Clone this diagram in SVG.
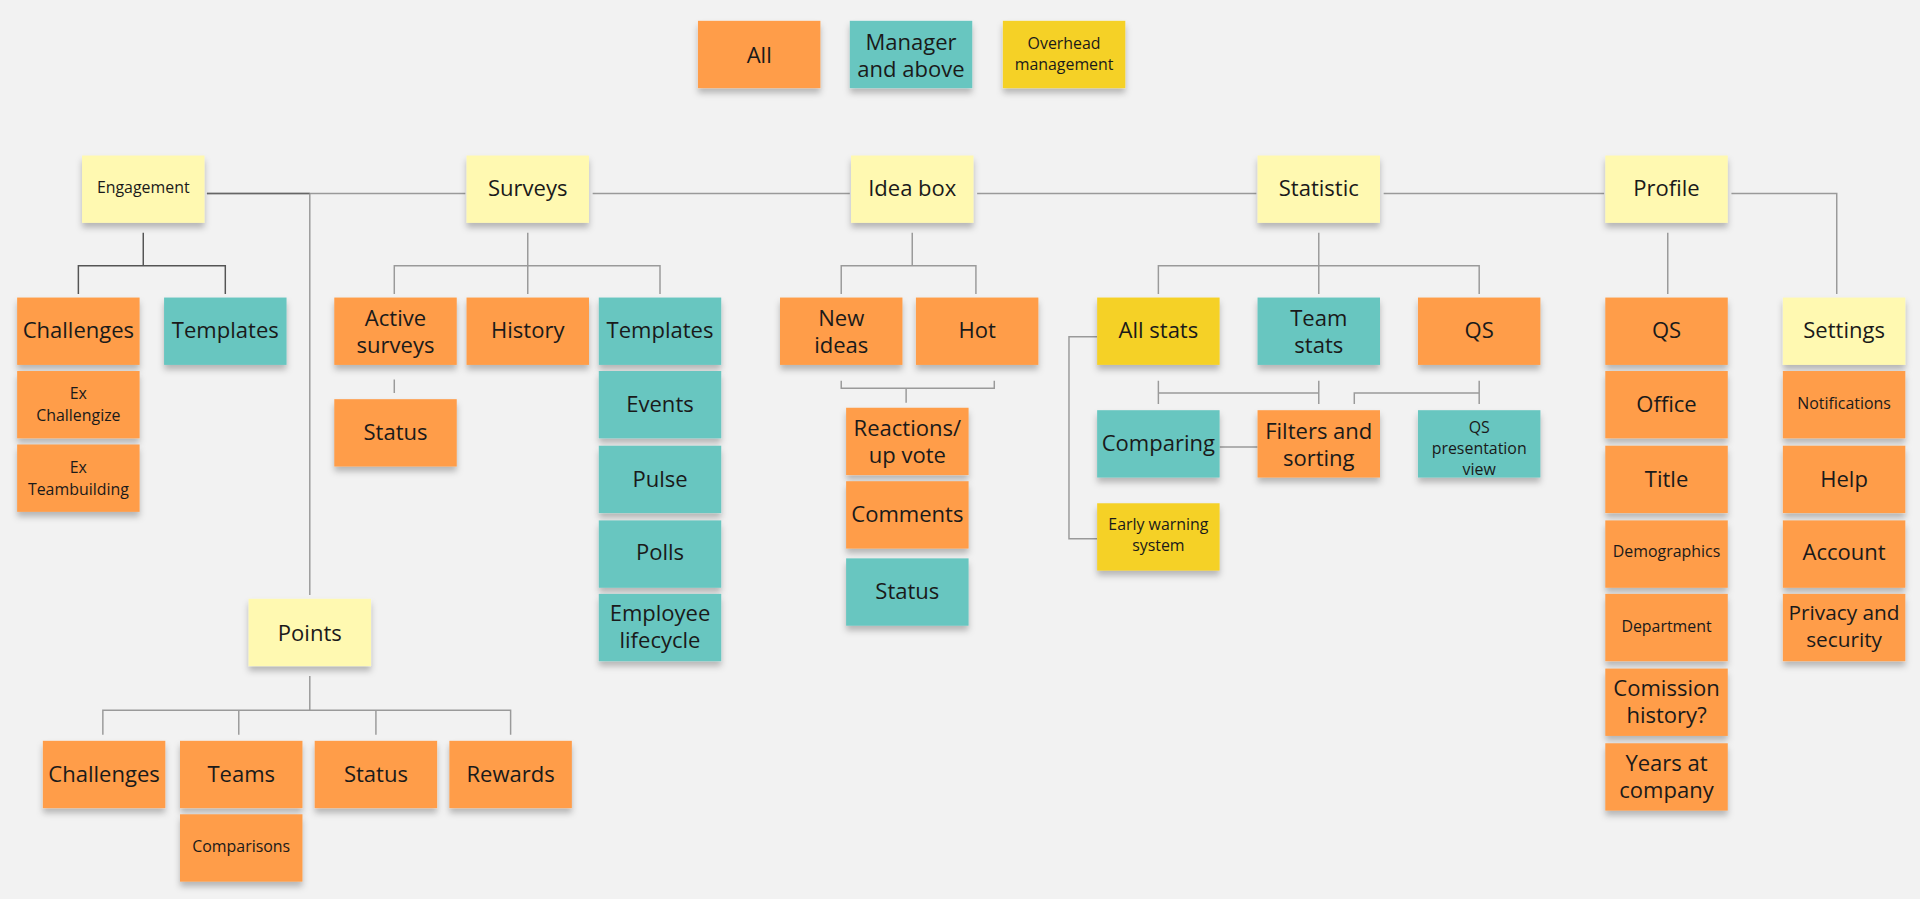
<svg xmlns="http://www.w3.org/2000/svg" width="1920" height="899" viewBox="0 0 1920 899">
<defs>
<filter id="sh" x="-10%" y="-10%" width="120%" height="140%"><feDropShadow dx="0" dy="4" stdDeviation="2.5" flood-color="#000" flood-opacity="0.25"/></filter>
<style>
.n rect{filter:url(#sh)}
.o{fill:#FF9D48}.t{fill:#67C6C0}.y{fill:#FFF9B1}.g{fill:#F5D128}
text{font-family:"Open Sans","Noto Sans",sans-serif;font-size:18px;fill:#1a1a1a;text-anchor:middle;dominant-baseline:central}
text.s{font-size:13px}
.c path{fill:none;stroke:#9a9a9a;stroke-width:1.2}
</style>
</defs>
<rect width="1920" height="899" fill="#F2F2F2"/>
<g transform="scale(1.22449)">
<g class="c" id="connectors">
<path d="M169 158H380M484 158H694M798 158H1026M1130 158H1310M1414 158H1500V240"/>
<path d="M169 158H253" style="stroke:#666"/>
<path d="M253 158V486"/>
<path d="M117 190V217M64 240V217H184V240" style="stroke:#555"/>
<path d="M431 190V240M322 240V217H539V240M322 310V321"/>
<path d="M745 190V217M687 240V217H797V240M687 311V317H812V311M740 317V329"/>
<path d="M1077 190V240M946 240V217H1208V240"/>
<path d="M946 311V330M946 321H1077M1077 311V330M1106 330V321H1208M1208 311V330M996 365H1027"/>
<path d="M896 275H873V440H896"/>
<path d="M1362 190V240"/>
<path d="M253 552V580M84 600V580H417V600M195 580V600M307 580V600"/>
</g>
<g class="n" id="legend-all"><rect class="o" x="570" y="17" width="100" height="55"/><text x="620" y="44.5">All</text></g>
<g class="n" id="legend-manager"><rect class="t" x="694" y="17" width="100" height="55"/><text x="744" y="44.5"><tspan x="744" dy="-11">Manager</tspan><tspan x="744" dy="22">and above</tspan></text></g>
<g class="n" id="legend-overhead"><rect class="g" x="819" y="17" width="100" height="55"/><text class="s" x="869" y="44.5"><tspan x="869" dy="-9">Overhead</tspan><tspan x="869" dy="17">management</tspan></text></g>

<g class="n" id="engagement"><rect class="y" x="67" y="127" width="100" height="55"/><text class="s" x="117" y="153">Engagement</text></g>
<g class="n" id="surveys"><rect class="y" x="381" y="127" width="100" height="55"/><text x="431" y="153">Surveys</text></g>
<g class="n" id="ideabox"><rect class="y" x="695" y="127" width="100" height="55"/><text x="745" y="153">Idea box</text></g>
<g class="n" id="statistic"><rect class="y" x="1027" y="127" width="100" height="55"/><text x="1077" y="153">Statistic</text></g>
<g class="n" id="profile"><rect class="y" x="1311" y="127" width="100" height="55"/><text x="1361" y="153">Profile</text></g>

<g class="n" id="eng-challenges"><rect class="o" x="14" y="243" width="100" height="55"/><text x="64" y="269">Challenges</text></g>
<g class="n" id="eng-templates"><rect class="t" x="134" y="243" width="100" height="55"/><text x="184" y="269">Templates</text></g>
<g class="n" id="ex-challengize"><rect class="o" x="14" y="303" width="100" height="55"/><text class="s" x="64" y="330"><tspan x="64" dy="-9">Ex</tspan><tspan x="64" dy="18">Challengize</tspan></text></g>
<g class="n" id="ex-teambuilding"><rect class="o" x="14" y="363" width="100" height="55"/><text class="s" x="64" y="390"><tspan x="64" dy="-9">Ex</tspan><tspan x="64" dy="18">Teambuilding</tspan></text></g>

<g class="n" id="active-surveys"><rect class="o" x="273" y="243" width="100" height="55"/><text x="323" y="270"><tspan x="323" dy="-11">Active</tspan><tspan x="323" dy="22">surveys</tspan></text></g>
<g class="n" id="history"><rect class="o" x="381" y="243" width="100" height="55"/><text x="431" y="269">History</text></g>
<g class="n" id="sv-templates"><rect class="t" x="489" y="243" width="100" height="55"/><text x="539" y="269">Templates</text></g>
<g class="n" id="sv-status"><rect class="o" x="273" y="326" width="100" height="55"/><text x="323" y="352">Status</text></g>
<g class="n" id="events"><rect class="t" x="489" y="303" width="100" height="55"/><text x="539" y="329">Events</text></g>
<g class="n" id="pulse"><rect class="t" x="489" y="364" width="100" height="55"/><text x="539" y="390">Pulse</text></g>
<g class="n" id="polls"><rect class="t" x="489" y="425" width="100" height="55"/><text x="539" y="450">Polls</text></g>
<g class="n" id="employee-lifecycle"><rect class="t" x="489" y="485" width="100" height="55"/><text x="539" y="511"><tspan x="539" dy="-11">Employee</tspan><tspan x="539" dy="22">lifecycle</tspan></text></g>

<g class="n" id="new-ideas"><rect class="o" x="637" y="243" width="100" height="55"/><text x="687" y="270"><tspan x="687" dy="-11">New</tspan><tspan x="687" dy="22">ideas</tspan></text></g>
<g class="n" id="hot"><rect class="o" x="748" y="243" width="100" height="55"/><text x="798" y="269">Hot</text></g>
<g class="n" id="reactions"><rect class="o" x="691" y="333" width="100" height="55"/><text x="741" y="360"><tspan x="741" dy="-11">Reactions/</tspan><tspan x="741" dy="22">up vote</tspan></text></g>
<g class="n" id="comments"><rect class="o" x="691" y="393" width="100" height="55"/><text x="741" y="419">Comments</text></g>
<g class="n" id="idea-status"><rect class="t" x="691" y="456" width="100" height="55"/><text x="741" y="482">Status</text></g>

<g class="n" id="all-stats"><rect class="g" x="896" y="243" width="100" height="55"/><text x="946" y="269">All stats</text></g>
<g class="n" id="team-stats"><rect class="t" x="1027" y="243" width="100" height="55"/><text x="1077" y="270"><tspan x="1077" dy="-11">Team</tspan><tspan x="1077" dy="22">stats</tspan></text></g>
<g class="n" id="stat-qs"><rect class="o" x="1158" y="243" width="100" height="55"/><text x="1208" y="269">QS</text></g>
<g class="n" id="comparing"><rect class="t" x="896" y="335" width="100" height="55"/><text x="946" y="361">Comparing</text></g>
<g class="n" id="filters"><rect class="o" x="1027" y="335" width="100" height="55"/><text x="1077" y="362"><tspan x="1077" dy="-11">Filters and</tspan><tspan x="1077" dy="22">sorting</tspan></text></g>
<g class="n" id="qs-presentation"><rect class="t" x="1158" y="335" width="100" height="55"/><text class="s" x="1208" y="358"><tspan x="1208" dy="-9">QS</tspan><tspan x="1208" dy="17">presentation</tspan><tspan x="1208" dy="17">view</tspan></text></g>
<g class="n" id="early-warning"><rect class="g" x="896" y="411" width="100" height="55"/><text class="s" x="946" y="436"><tspan x="946" dy="-8">Early warning</tspan><tspan x="946" dy="17">system</tspan></text></g>

<g class="n" id="profile-qs"><rect class="o" x="1311" y="243" width="100" height="55"/><text x="1361" y="269">QS</text></g>
<g class="n" id="office"><rect class="o" x="1311" y="303" width="100" height="55"/><text x="1361" y="329">Office</text></g>
<g class="n" id="title"><rect class="o" x="1311" y="364" width="100" height="55"/><text x="1361" y="390">Title</text></g>
<g class="n" id="demographics"><rect class="o" x="1311" y="425" width="100" height="55"/><text class="s" x="1361" y="450">Demographics</text></g>
<g class="n" id="department"><rect class="o" x="1311" y="485" width="100" height="55"/><text class="s" x="1361" y="511">Department</text></g>
<g class="n" id="comission"><rect class="o" x="1311" y="546" width="100" height="55"/><text x="1361" y="572"><tspan x="1361" dy="-11">Comission</tspan><tspan x="1361" dy="22">history?</tspan></text></g>
<g class="n" id="years"><rect class="o" x="1311" y="607" width="100" height="55"/><text x="1361" y="633"><tspan x="1361" dy="-11">Years at</tspan><tspan x="1361" dy="22">company</tspan></text></g>

<g class="n" id="settings"><rect class="y" x="1456" y="243" width="100" height="55"/><text x="1506" y="269">Settings</text></g>
<g class="n" id="notifications"><rect class="o" x="1456" y="303" width="100" height="55"/><text class="s" x="1506" y="329">Notifications</text></g>
<g class="n" id="help"><rect class="o" x="1456" y="364" width="100" height="55"/><text x="1506" y="390">Help</text></g>
<g class="n" id="account"><rect class="o" x="1456" y="425" width="100" height="55"/><text x="1506" y="450">Account</text></g>
<g class="n" id="privacy"><rect class="o" x="1456" y="485" width="100" height="55"/><text style="font-size:17px" x="1506" y="511"><tspan x="1506" dy="-11">Privacy and</tspan><tspan x="1506" dy="22">security</tspan></text></g>

<g class="n" id="points"><rect class="y" x="203" y="489" width="100" height="55"/><text x="253" y="516">Points</text></g>
<g class="n" id="pt-challenges"><rect class="o" x="35" y="605" width="100" height="55"/><text x="85" y="631">Challenges</text></g>
<g class="n" id="pt-teams"><rect class="o" x="147" y="605" width="100" height="55"/><text x="197" y="631">Teams</text></g>
<g class="n" id="pt-status"><rect class="o" x="257" y="605" width="100" height="55"/><text x="307" y="631">Status</text></g>
<g class="n" id="pt-rewards"><rect class="o" x="367" y="605" width="100" height="55"/><text x="417" y="631">Rewards</text></g>
<g class="n" id="comparisons"><rect class="o" x="147" y="665" width="100" height="55"/><text class="s" x="197" y="691">Comparisons</text></g>
</g>
</svg>
